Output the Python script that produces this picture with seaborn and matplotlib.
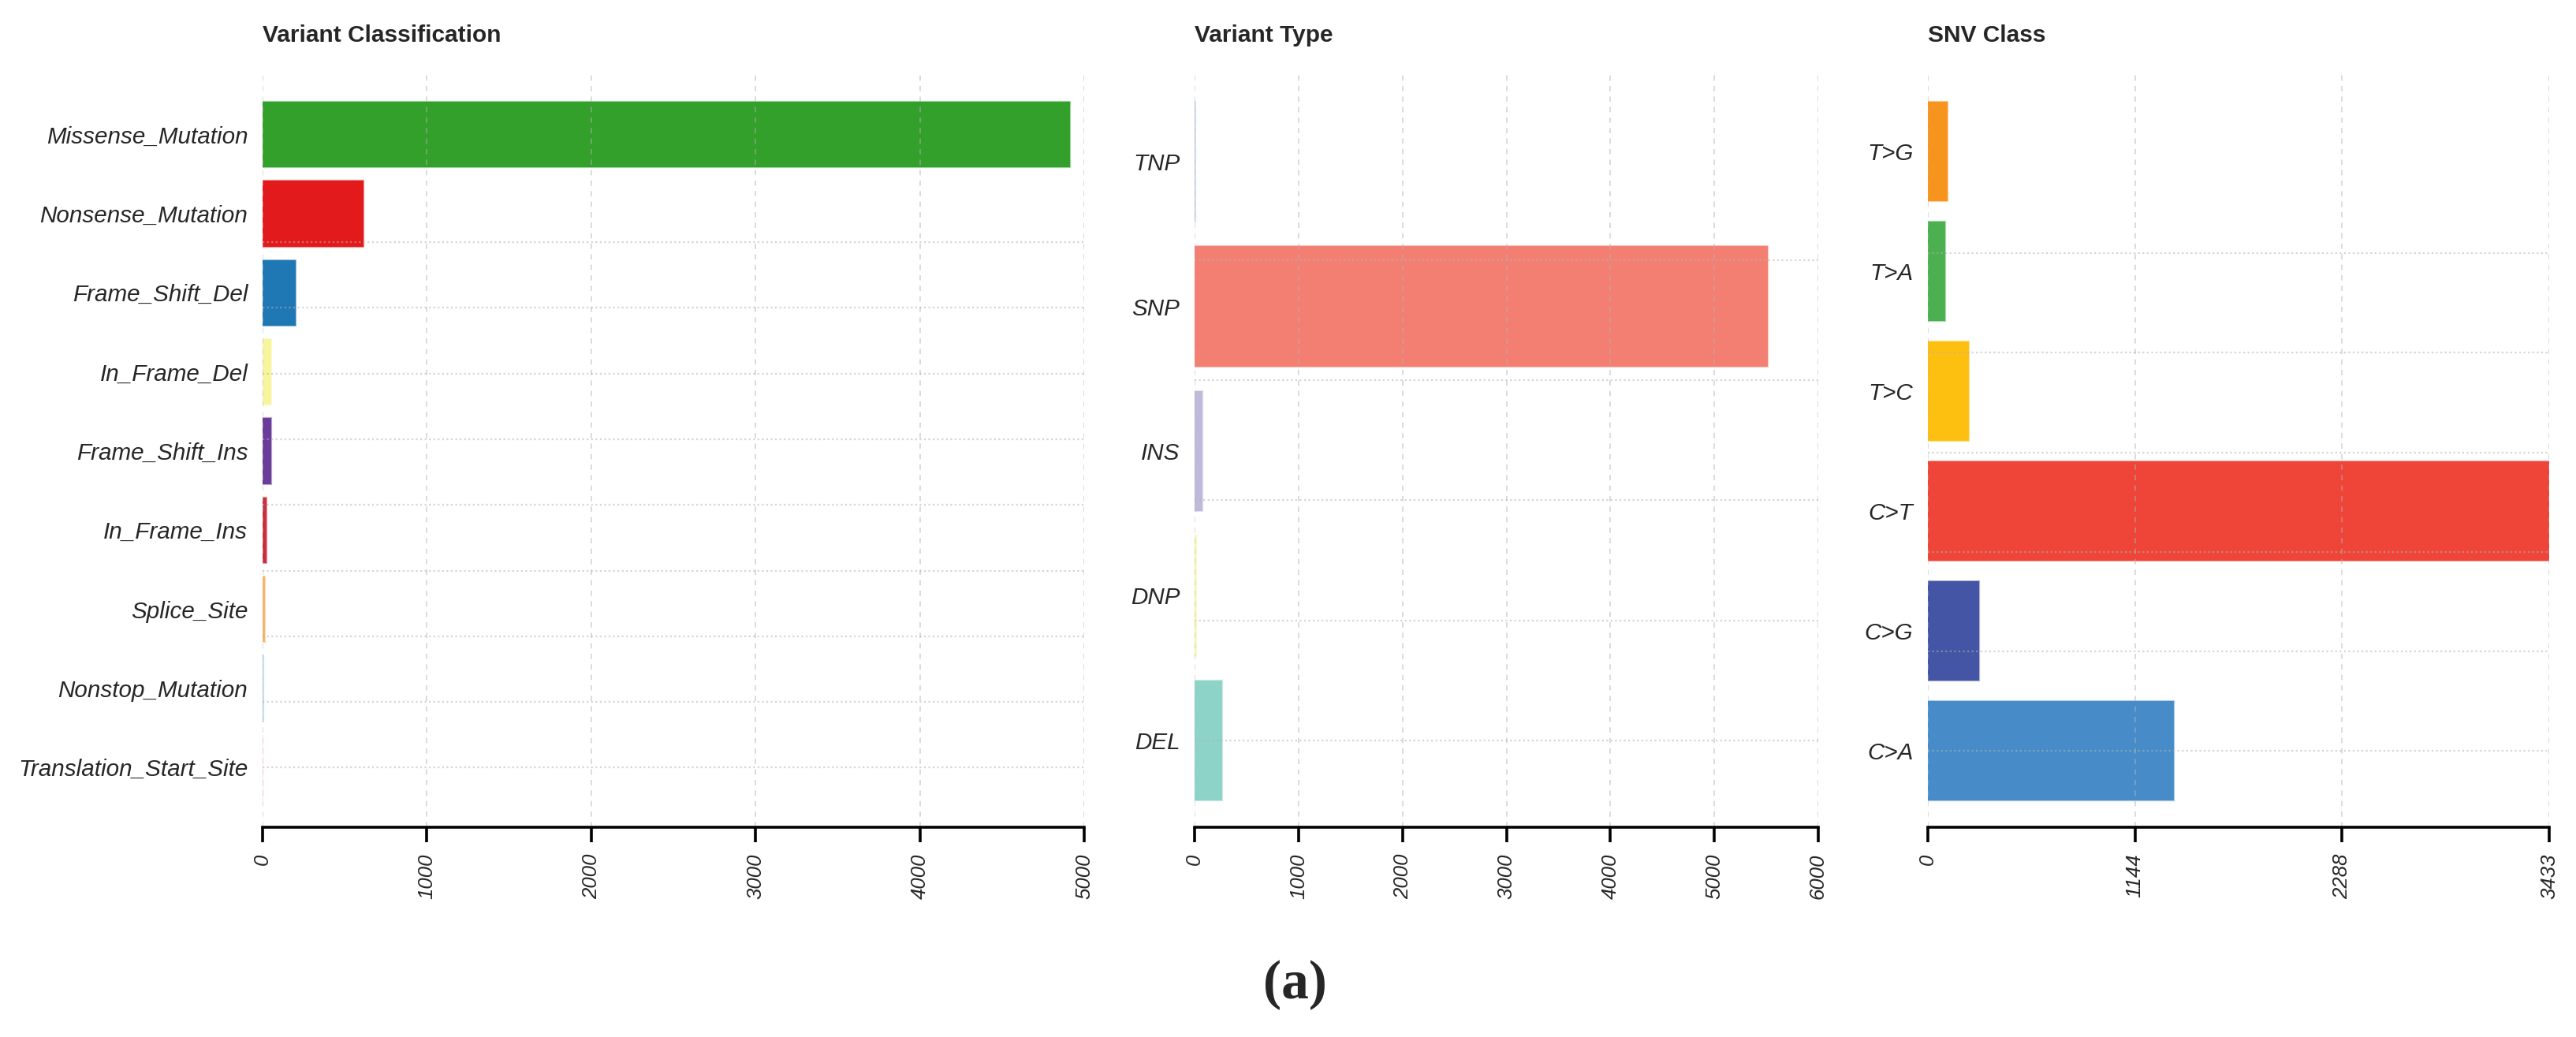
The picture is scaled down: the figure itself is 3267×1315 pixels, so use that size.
import numpy as np
import pandas as pd
import matplotlib
matplotlib.use("Agg")
import matplotlib.pyplot as plt
from matplotlib.colors import to_rgba
import seaborn as sns

# Variant Classification
vc_labels = ["Missense_Mutation", "Nonsense_Mutation", "Frame_Shift_Del", "In_Frame_Del",
             "Frame_Shift_Ins", "In_Frame_Ins", "Splice_Site", "Nonstop_Mutation",
             "Translation_Start_Site"]
vc_counts = [4915, 616, 203, 55, 52, 22, 13, 3, 2]
vc_colors = ["#33A02C", "#E31A1C", "#1F78B4", "#F7F59E", "#6A3D9A", "#C9303F",
             "#F9B46C", "#A6CEE3", "#F8CFC0"]
vc_ticks = [0, 1000, 2000, 3000, 4000, 5000]

# Variant Type
vt_labels = ["TNP", "SNP", "INS", "DNP", "DEL"]
vt_counts = [4, 5514, 74, 18, 264]
vt_colors = ["#B9C8E0", "#F37F73", "#BEBADA", "#F8F5A8", "#8DD3C7"]
vt_ticks = [0, 1000, 2000, 3000, 4000, 5000, 6000]

# SNV Class
snv_labels = ["T>G", "T>A", "T>C", "C>T", "C>G", "C>A"]
snv_counts = [110, 94, 226, 3433, 282, 1361]
snv_colors = ["#F7941D", "#4CAF50", "#FDC010", "#EE4538", "#4355A4", "#478CC9"]
snv_ticks = [0, 1144, 2288, 3433]

sns.set_style("white")
plt.rcParams["font.family"] = ["Liberation Sans", "DejaVu Sans"]

W, H = 3267, 1315
fig = plt.figure(figsize=(W / 100, H / 100), dpi=100)

# panel extents in pixels
top_px, bot_px = 95, 1049
bar_top_px, bar_bot_px = 129, 1015
bar_w = 0.83

panels = [
    ("Variant Classification", vc_labels, vc_counts, vc_colors, vc_ticks, 333, 1375),
    ("Variant Type", vt_labels, vt_counts, vt_colors, vt_ticks, 1515, 2306),
    ("SNV Class", snv_labels, snv_counts, snv_colors, snv_ticks, 2445, 3233),
]

grid_col = (0.70, 0.70, 0.70, 0.55)

for title, labels, counts, colors, ticks, x0, x1 in panels:
    ax = fig.add_axes([x0 / W, 1 - bot_px / H, (x1 - x0) / W, (bot_px - top_px) / H])
    df = pd.DataFrame({"label": labels, "count": counts})
    sns.barplot(data=df, x="count", y="label", hue="label", palette=colors,
                saturation=1, width=bar_w, linewidth=0, legend=False, ax=ax)
    # light border like the R bars, keeps tiny bars visible
    for p in ax.patches:
        fc = p.get_facecolor()
        p.set_edgecolor(to_rgba(fc, 0.45))
        p.set_linewidth(1.6)

    n = len(labels)
    s = (bar_bot_px - bar_top_px) / (n - 1 + bar_w)
    ax.set_ylim(n - 1 + bar_w / 2 + (bot_px - bar_bot_px) / s,
                -bar_w / 2 - (bar_top_px - top_px) / s)
    ax.set_xlim(ticks[0], ticks[-1])
    ax.set_xticks(ticks)
    ax.set_xticklabels([str(t) for t in ticks])

    # grid drawn over the bars, like the original
    for t in ticks:
        ax.axvline(t, color=grid_col, lw=1.2, ls=(0, (4, 4)), zorder=5)
    for k in range(n):
        ax.axhline(n - 1 - k * bar_w, color=grid_col, lw=1.6, ls=(0, (1, 1.5)), zorder=5)

    for sp in ["top", "right", "left"]:
        ax.spines[sp].set_visible(False)
    ax.spines["bottom"].set_bounds(ticks[0], ticks[-1])
    ax.spines["bottom"].set_linewidth(2.6)
    ax.spines["bottom"].set_color("black")
    ax.spines["bottom"].set_zorder(6)

    ax.tick_params(axis="x", bottom=True, direction="out", length=14, width=2.6,
                   color="black", pad=10, labelsize=18.5, labelrotation=90)
    ax.tick_params(axis="y", left=False, pad=10, labelsize=21.3)
    for lab in ax.get_xticklabels() + ax.get_yticklabels():
        lab.set_fontstyle("italic")
    ax.set_xlabel("")
    ax.set_ylabel("")
    ax.set_title(title, loc="left", fontsize=21.5, fontweight="bold", pad=30)

fig.text(1642 / W, 1 - 1249 / H, "(a)", ha="center", va="center", fontsize=50,
         fontweight="bold", family=["Liberation Serif", "DejaVu Serif"])

fig.savefig("out.png", dpi=100)
